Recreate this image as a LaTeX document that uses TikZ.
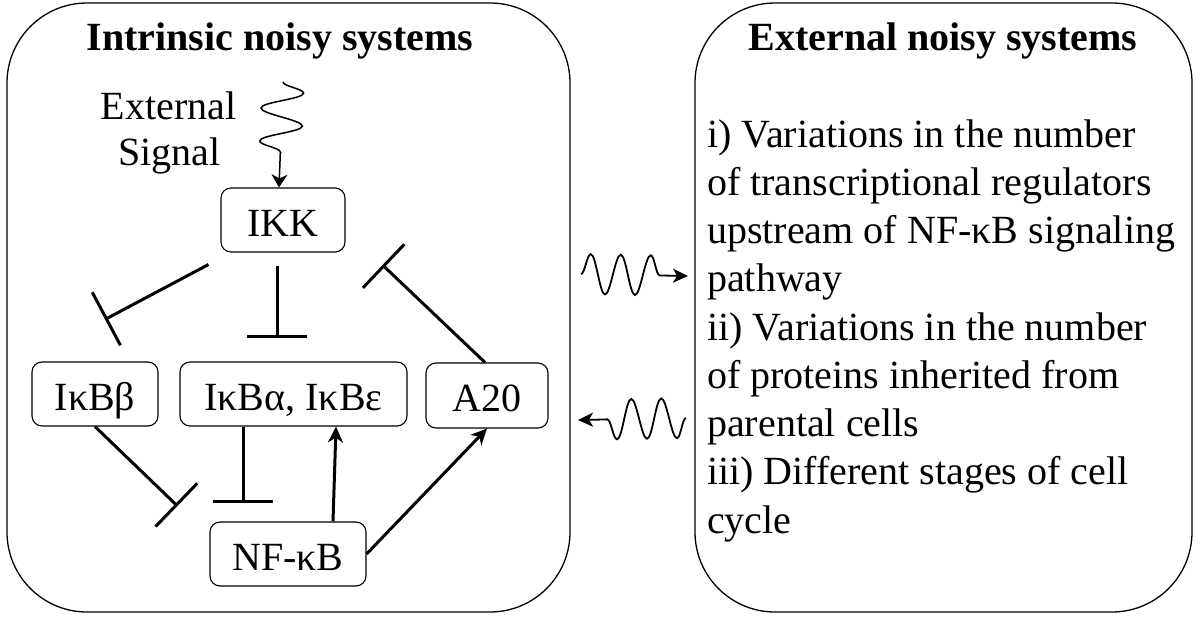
\documentclass[tikz,border=0pt]{standalone}
\usepackage{fontspec}
\setmainfont{Liberation Serif}
\usetikzlibrary{arrows.meta,decorations.pathmorphing}
\begin{document}
\begin{tikzpicture}[x=1pt,y=-1pt,
  txt/.style={font=\fontsize{40}{48}\selectfont, inner sep=0pt},
  ttl/.style={font=\fontsize{40}{48}\selectfont\bfseries, inner sep=0pt},
  panel/.style={draw, line width=1.3pt, rounded corners=80pt},
  box/.style={draw, line width=1.1pt, rounded corners=10pt, minimum height=64pt,
    inner sep=0pt, text height=34pt, text depth=2pt, font=\fontsize{40}{48}\selectfont},
  inh/.style={line width=3pt, -{Bar[width=60pt]}},
  act/.style={line width=3pt, -{Stealth[length=16pt,width=15pt,inset=5pt]}},
  wavy/.style={line width=1.8pt, decorate,
    decoration={snake, amplitude=20pt, segment length=30pt, post length=22pt},
    -{Stealth[length=15pt,width=14pt,inset=4pt]}},
  sig/.style={line width=1.5pt, decorate,
    decoration={snake, amplitude=21pt, segment length=33pt, post length=21pt},
    -{Stealth[length=13pt,width=16pt,inset=4pt]}}
]
\useasboundingbox (0,0) rectangle (1200,624);
% panels
\draw[panel] (7,3) rectangle (570,612);
\draw[panel] (695,3) rectangle (1192,612);
\node[ttl, anchor=base] (ttlL) at (280,50) {Intrinsic noisy systems};
\node[ttl, anchor=base] (ttlR) at (943,50) {External noisy systems};
% external signal
\node[txt, anchor=base] (ext1) at (168.5,119) {External};
\node[txt, anchor=base] (ext2) at (169.5,165) {Signal};
% boxes
\node[box, minimum width=124pt] (IKK) at (283,220) {IKK};
\node[box, minimum width=126pt] (IkBb) at (95,394) {IκBβ};
\node[box, minimum width=227pt] (IkBa) at (293.5,394) {IκBα, IκBε};
\node[box, minimum width=122pt, minimum height=65pt] (A20) at (487,395.5) {A20};
\node[box, minimum width=156pt] (NFkB) at (288,554) {NF-κB};
% signal arrow
\coordinate (sigtop) at (283,82);
\draw[sig] (sigtop) -- ([xshift=-4pt]IKK.north);
% inhibitions
\draw[inh] ([xshift=-12pt,yshift=-12pt]IKK.south west) -- ([xshift=10pt,yshift=42pt]IkBb.north);
\draw[inh] ([xshift=-6pt,yshift=-13pt]IKK.south) -- ([xshift=-16.5pt,yshift=23pt]IkBa.north);
\draw[inh] ([xshift=-2pt]A20.north) -- ([xshift=37pt,yshift=-45pt]IKK.east);
\draw[inh] (IkBb.south) -- ([xshift=-32pt,yshift=48pt]NFkB.west);
\draw[inh] ([xshift=-50.5pt]IkBa.south) -- ([xshift=-45pt,yshift=18pt]NFkB.north);
% activations
\draw[act] ([xshift=45pt]NFkB.north) -- ([xshift=42.5pt]IkBa.south);
\draw[act] (NFkB.east) -- (A20.south);
% wavy arrows between panels
\coordinate (w1s) at (581,274);
\coordinate (w1e) at (688,276);
\coordinate (w2s) at (686,418);
\coordinate (w2e) at (578,420);
\draw[wavy] (w1s) -- (w1e);
\draw[wavy] (w2s) -- (w2e);
% right text
\node[txt, anchor=base west] (r0) at (707,147) {i) Variations in the number};
\node[txt, anchor=base west] (r1) at (707,195.25) {of transcriptional regulators};
\node[txt, anchor=base west] (r2) at (707,243.5) {upstream of NF-κB signaling};
\node[txt, anchor=base west] (r3) at (707,291.75) {pathway};
\node[txt, anchor=base west] (r4) at (707,340) {ii) Variations in the number};
\node[txt, anchor=base west] (r5) at (707,388.25) {of proteins inherited from};
\node[txt, anchor=base west] (r6) at (707,436.5) {parental cells};
\node[txt, anchor=base west] (r7) at (707,484.75) {iii) Different stages of cell};
\node[txt, anchor=base west] (r8) at (707,533) {cycle};
\end{tikzpicture}
\end{document}
